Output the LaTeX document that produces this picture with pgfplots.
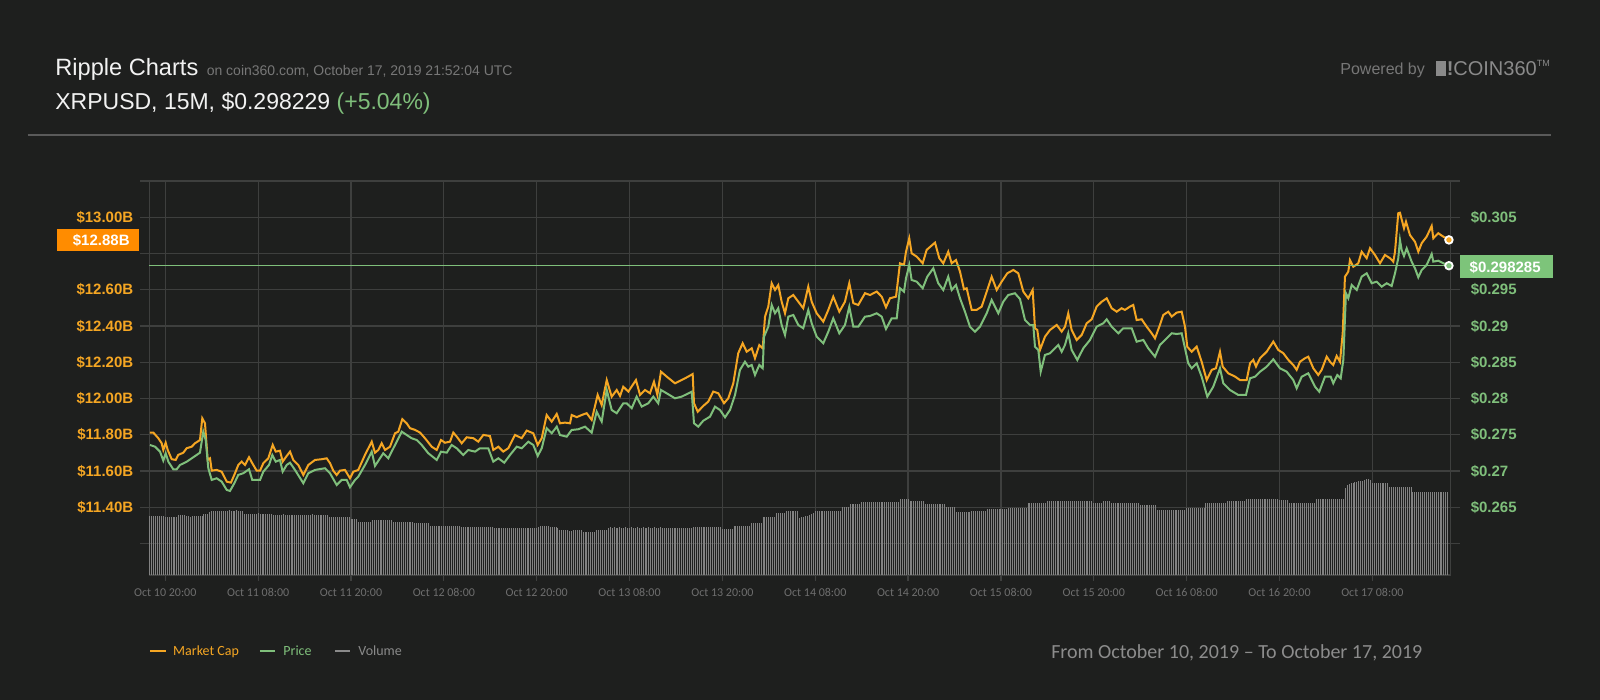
\documentclass[border=0pt]{standalone}
\usepackage{pgfplots}
\pgfplotsset{compat=1.18}
\usepackage{fontspec}
\setmainfont{Liberation Sans}
\newfontfamily\cf{Carlito}
\definecolor{bg}{HTML}{1E1F1E}
\definecolor{gridc}{HTML}{3E3F3E}
\definecolor{mcc}{HTML}{F5A623}
\definecolor{prc}{HTML}{7FBF7B}
\definecolor{volc}{HTML}{828282}
\definecolor{xlab}{HTML}{6E6E6E}
\definecolor{subc}{HTML}{777777}
\definecolor{boxor}{HTML}{FF8C00}
\definecolor{boxgr}{HTML}{7DC47A}
\definecolor{sepc}{HTML}{5A5A5A}
\definecolor{titc}{HTML}{F2F2F2}
\definecolor{logoc}{HTML}{8A8A8A}
\definecolor{fromc}{HTML}{8C8C8C}
\pgfplotsset{
  base/.style={at={(74.65pt,-287.5pt)}, anchor=south west, width=650.7pt, height=197pt,
    scale only axis, xmin=17.932, xmax=186.13, clip=false},
}
\begin{document}
\begin{tikzpicture}
\fill[bg] (0,0) rectangle (800pt,-350pt);
\path[use as bounding box] (0,0) rectangle (800pt,-350pt);
% ---------- grid axis ----------
\begin{axis}[base, ymin=11.0262, ymax=13.2,
  axis line style={gridc, line width=0.6pt},
  grid=major, major grid style={gridc, line width=0.6pt},
  xtick={20,32,...,176}, xtick pos=bottom, tick align=outside, major tick length=3pt,
  xtick style={gridc, line width=0.6pt},
  xticklabels={Oct 10 20:00, Oct 11 08:00, Oct 11 20:00, Oct 12 08:00, Oct 12 20:00, Oct 13 08:00, Oct 13 20:00, Oct 14 08:00, Oct 14 20:00, Oct 15 08:00, Oct 15 20:00, Oct 16 08:00, Oct 16 20:00, Oct 17 08:00},
  xticklabel style={font=\cf\fontsize{6pt}{7pt}\selectfont, text=xlab, anchor=north, text height=4pt, text depth=0pt},
  ytick={11.2,11.4,11.6,11.8,12.0,12.2,12.4,12.6,12.8,13.0,13.2}, yticklabels={}, ytick style={draw=none},
]
\end{axis}
% ---------- volume axis ----------
\begin{axis}[base, ymin=0, ymax=6.5667, hide axis]
\addplot[ycomb, volc, line width=0.5pt, no marks] table[row sep=\\, x expr=\coordindex*0.25+18.0, y=v] {
v\\
0.98\\0.99\\0.98\\0.99\\0.99\\0.98\\0.99\\0.99\\
0.96\\0.96\\0.96\\0.97\\0.96\\0.96\\0.96\\
1.00\\1.00\\1.00\\1.00\\
0.98\\0.98\\0.97\\0.98\\0.99\\0.98\\0.98\\0.98\\0.98\\
1.02\\1.02\\1.02\\
1.05\\1.06\\1.07\\1.07\\1.07\\1.07\\1.06\\1.07\\1.07\\1.07\\1.08\\1.07\\1.07\\1.07\\1.09\\1.07\\1.07\\1.07\\
1.02\\1.02\\1.02\\1.02\\1.02\\1.02\\1.02\\1.03\\1.02\\1.02\\1.02\\1.02\\1.02\\1.02\\1.02\\
1.00\\1.00\\1.00\\1.00\\1.00\\1.01\\1.00\\1.00\\1.00\\1.00\\1.00\\1.00\\1.00\\1.00\\1.00\\1.00\\1.00\\1.00\\1.00\\1.00\\1.01\\1.00\\1.00\\1.00\\1.00\\1.00\\1.00\\1.00\\1.00\\
0.97\\0.97\\0.97\\0.97\\0.97\\0.97\\0.97\\0.97\\0.97\\0.97\\0.97\\
0.93\\0.93\\0.93\\0.93\\
0.88\\0.88\\0.88\\0.88\\0.88\\0.88\\0.88\\
0.92\\0.92\\0.92\\0.92\\0.92\\0.92\\0.92\\0.92\\0.92\\0.92\\0.92\\
0.89\\0.89\\0.89\\0.89\\0.89\\0.89\\0.89\\0.89\\0.89\\0.89\\0.89\\
0.86\\0.86\\0.86\\0.86\\0.86\\0.86\\0.86\\0.86\\
0.82\\0.82\\0.82\\0.82\\0.82\\0.82\\0.82\\0.82\\0.82\\0.82\\0.82\\0.82\\0.82\\0.82\\0.82\\0.82\\
0.80\\0.80\\0.80\\0.80\\0.80\\0.80\\0.80\\0.80\\0.80\\0.80\\0.80\\0.80\\0.80\\0.80\\0.80\\0.80\\0.80\\
0.78\\0.78\\0.78\\0.78\\0.78\\0.78\\0.78\\0.78\\0.78\\0.78\\0.78\\0.78\\0.78\\0.78\\0.78\\0.78\\0.78\\0.78\\0.78\\0.78\\0.78\\0.78\\0.78\\
0.80\\0.81\\0.81\\0.82\\0.81\\0.81\\0.80\\0.80\\0.80\\0.80\\0.79\\
0.75\\0.75\\0.75\\0.75\\0.75\\0.74\\0.74\\0.75\\0.75\\0.75\\0.75\\0.75\\
0.72\\0.72\\0.72\\0.72\\0.72\\0.72\\0.72\\
0.75\\0.75\\0.75\\0.75\\0.75\\0.75\\
0.79\\0.80\\0.79\\0.80\\0.79\\0.79\\0.80\\0.79\\0.79\\0.80\\0.79\\0.79\\0.80\\0.79\\0.79\\0.80\\0.79\\0.79\\0.80\\0.79\\0.79\\0.80\\0.79\\0.79\\0.80\\0.79\\0.79\\0.80\\0.79\\0.79\\
0.78\\0.78\\0.78\\0.78\\0.78\\0.78\\0.78\\0.78\\0.78\\0.78\\0.78\\0.78\\0.78\\0.78\\
0.80\\0.80\\0.80\\0.80\\0.80\\0.80\\0.80\\0.80\\0.80\\0.80\\0.80\\0.80\\0.80\\0.80\\0.80\\
0.76\\0.76\\0.76\\0.76\\0.76\\0.76\\
0.82\\0.82\\0.82\\0.82\\0.82\\0.82\\0.82\\0.82\\0.82\\
0.87\\0.87\\0.87\\0.87\\0.87\\0.87\\
0.97\\0.97\\0.97\\0.97\\0.97\\0.97\\0.97\\
1.03\\1.03\\1.03\\1.03\\1.03\\
1.06\\1.06\\1.06\\1.06\\1.06\\1.06\\1.06\\
0.95\\0.97\\0.97\\0.98\\0.98\\1.00\\1.02\\1.03\\
1.07\\1.07\\1.07\\1.07\\1.07\\1.07\\1.07\\1.07\\1.07\\1.07\\1.07\\1.07\\1.07\\1.07\\
1.13\\1.13\\1.13\\1.13\\
1.18\\1.18\\1.18\\1.18\\1.18\\1.18\\
1.21\\1.21\\1.21\\1.21\\1.21\\1.21\\1.21\\1.21\\1.21\\1.21\\1.21\\1.21\\1.21\\1.21\\1.21\\1.21\\1.21\\1.21\\1.21\\1.21\\
1.26\\1.26\\1.26\\1.26\\1.26\\
1.24\\1.24\\1.24\\1.24\\1.24\\1.24\\1.24\\1.24\\
1.18\\1.18\\1.18\\1.18\\1.18\\1.18\\1.18\\1.18\\1.18\\1.18\\1.18\\
1.14\\1.14\\1.14\\1.14\\1.14\\
1.05\\1.05\\1.05\\1.05\\1.05\\1.05\\1.05\\1.05\\
1.07\\1.07\\1.07\\1.07\\1.07\\1.07\\1.07\\1.07\\
1.10\\1.10\\1.10\\1.10\\1.10\\1.10\\1.10\\1.10\\1.10\\1.10\\1.10\\
1.12\\1.12\\1.12\\1.12\\1.12\\1.12\\1.12\\1.12\\1.12\\1.12\\
1.20\\1.20\\1.20\\1.20\\1.20\\1.20\\1.20\\1.20\\1.20\\1.20\\
1.24\\1.24\\1.24\\1.24\\1.24\\1.24\\1.24\\1.24\\1.24\\1.24\\1.24\\1.24\\1.24\\1.24\\1.24\\1.24\\1.24\\1.24\\1.24\\1.24\\1.24\\1.24\\1.24\\1.24\\
1.20\\1.20\\1.20\\1.20\\1.20\\
1.23\\1.23\\1.23\\1.23\\
1.20\\1.20\\1.20\\1.20\\1.20\\1.20\\1.20\\1.20\\1.20\\1.20\\1.20\\1.20\\1.20\\1.20\\1.20\\
1.16\\1.16\\1.16\\1.16\\1.16\\1.16\\1.16\\1.16\\1.16\\
1.08\\1.08\\1.08\\1.08\\1.08\\1.08\\1.08\\1.08\\1.08\\1.08\\1.08\\1.08\\1.08\\1.08\\1.08\\
1.12\\1.12\\1.12\\1.12\\1.12\\1.12\\1.12\\1.12\\1.12\\1.12\\
1.20\\1.20\\1.20\\1.20\\1.20\\1.20\\1.20\\1.20\\1.20\\1.20\\1.20\\
1.23\\1.23\\1.23\\1.23\\1.23\\1.23\\1.23\\1.23\\1.23\\1.23\\
1.27\\1.27\\1.27\\1.27\\1.27\\1.27\\1.27\\1.27\\1.27\\1.27\\1.27\\1.27\\1.27\\1.27\\1.27\\1.27\\1.27\\
1.25\\1.25\\1.25\\1.25\\1.25\\
1.20\\1.20\\1.20\\1.20\\1.20\\1.20\\1.20\\1.20\\1.20\\1.20\\1.20\\1.20\\1.20\\1.20\\
1.27\\1.27\\1.27\\1.27\\1.27\\1.27\\1.27\\1.27\\1.27\\1.27\\1.27\\1.27\\1.27\\1.27\\1.27\\
1.45\\1.50\\1.52\\1.53\\1.54\\1.55\\1.55\\1.56\\1.57\\1.57\\
1.59\\1.60\\1.60\\1.59\\
1.53\\1.53\\1.53\\1.53\\1.53\\1.53\\1.53\\1.53\\1.53\\
1.47\\1.47\\1.47\\1.47\\1.47\\1.47\\1.47\\1.47\\1.47\\1.47\\1.47\\1.47\\
1.38\\1.38\\1.38\\1.38\\1.38\\1.38\\1.38\\1.38\\1.38\\1.38\\1.38\\1.38\\1.38\\1.38\\1.38\\1.38\\1.38\\1.38\\1.38\\
};
\end{axis}
% ---------- market cap axis ----------
\begin{axis}[base, ymin=11.0262, ymax=13.2,
  axis line style={draw=none}, xtick=\empty,
  ytick={11.2,11.4,11.6,11.8,12.0,12.2,12.4,12.6,12.8,13.0,13.2},
  yticklabels={{},{\$11.40B},{\$11.60B},{\$11.80B},{\$12.00B},{\$12.20B},{\$12.40B},{\$12.60B},{},{\$13.00B},{}},
  ytick pos=both, yticklabel pos=left, tick align=outside, major tick length=4.5pt,
  ytick style={gridc, line width=0.6pt},
  yticklabel style={font=\fontsize{7.5pt}{9pt}\selectfont\bfseries, text=mcc, anchor=east},
]
\addplot[mcc, line width=1pt, no marks] coordinates {
(18.02,11.812) (18.45,11.812) (19.10,11.781) (19.53,11.753) (19.74,11.716) (20.05,11.756) (20.31,11.716) (20.83,11.665) (21.34,11.661) (21.68,11.689) (22.33,11.701) (22.77,11.726) (23.41,11.734) (23.84,11.753) (24.48,11.771) (24.78,11.891) (25.13,11.863) (25.48,11.661) (25.78,11.670) (26.00,11.602) (26.64,11.606) (27.29,11.596) (27.94,11.541) (28.49,11.536) (29.01,11.588) (29.43,11.633) (29.87,11.652) (30.30,11.633) (30.82,11.676) (31.24,11.643) (31.81,11.602) (32.24,11.602) (32.67,11.643) (33.31,11.670) (33.88,11.744) (34.27,11.707) (34.82,11.712) (35.17,11.652) (35.69,11.683) (36.12,11.707) (36.54,11.661) (37.19,11.633) (37.84,11.578) (38.48,11.633) (39.35,11.661) (40.21,11.665) (40.86,11.670) (41.29,11.643) (41.71,11.602) (42.15,11.578) (42.58,11.602) (43.22,11.606) (43.87,11.560) (44.30,11.596) (44.94,11.606) (45.81,11.689) (46.68,11.762) (47.10,11.701) (47.53,11.716) (47.97,11.753) (48.40,11.716) (49.04,11.734) (49.69,11.808) (50.11,11.817) (50.63,11.886) (51.20,11.863) (51.63,11.836) (52.27,11.827) (52.92,11.812) (53.56,11.781) (54.43,11.734) (55.08,11.716) (55.63,11.771) (56.15,11.756) (56.80,11.762) (57.22,11.812) (57.66,11.790) (58.31,11.753) (58.95,11.786) (59.81,11.781) (60.45,11.762) (61.10,11.799) (61.96,11.793) (62.39,11.716) (63.04,11.734) (63.68,11.707) (64.33,11.726) (65.20,11.799) (66.06,11.781) (66.71,11.823) (67.56,11.808) (68.13,11.744) (68.65,11.781) (69.29,11.909) (69.94,11.872) (70.59,11.915) (71.01,11.863) (71.66,11.867) (72.31,11.863) (72.52,11.909) (73.17,11.897) (73.82,11.909) (74.46,11.919) (75.11,11.882) (75.88,12.020) (76.40,11.964) (77.05,12.102) (77.69,12.010) (78.34,12.047) (78.77,12.014) (79.19,12.065) (79.84,12.038) (80.83,12.102) (81.35,12.020) (82.00,12.047) (82.64,12.029) (83.16,12.093) (83.59,12.020) (84.06,12.148) (84.80,12.121) (85.87,12.084) (86.74,12.102) (87.59,12.121) (88.16,12.135) (88.33,11.974) (88.81,11.927) (89.53,11.959) (90.18,11.983) (90.82,12.038) (91.47,12.029) (92.21,11.974) (92.76,12.001) (93.41,12.084) (94.05,12.250) (94.62,12.305) (95.14,12.258) (95.79,12.277) (96.21,12.222) (96.77,12.295) (97.21,12.277) (97.51,12.452) (97.93,12.507) (98.37,12.636) (98.80,12.599) (99.22,12.626) (99.66,12.534) (100.09,12.470) (100.52,12.553) (101.16,12.571) (101.81,12.534) (102.45,12.498) (103.10,12.617) (103.54,12.534) (104.19,12.470) (105.04,12.424) (105.69,12.489) (106.33,12.562) (107.11,12.479) (107.84,12.534) (108.40,12.636) (108.92,12.526) (109.56,12.516) (110.43,12.581) (111.08,12.571) (111.94,12.590) (112.59,12.562) (113.14,12.503) (113.66,12.553) (114.44,12.562) (114.95,12.746) (115.47,12.737) (115.73,12.810) (116.15,12.884) (116.46,12.801) (117.11,12.783) (117.89,12.746) (118.40,12.820) (119.48,12.860) (120.03,12.774) (120.55,12.746) (121.19,12.810) (121.63,12.746) (122.19,12.764) (122.71,12.700) (123.22,12.603) (123.57,12.608) (124.22,12.489) (124.87,12.489) (125.51,12.507) (126.16,12.590) (126.80,12.672) (127.45,12.599) (128.10,12.645) (128.82,12.691) (129.60,12.709) (130.24,12.691) (130.89,12.590) (131.53,12.553) (132.10,12.599) (132.40,12.388) (132.70,12.378) (133.05,12.268) (133.69,12.341) (134.34,12.378) (135.21,12.406) (135.85,12.369) (136.28,12.396) (136.70,12.470) (137.14,12.378) (137.79,12.323) (138.44,12.351) (139.08,12.415) (139.73,12.437) (140.37,12.507) (141.02,12.534) (141.67,12.553) (142.31,12.498) (142.96,12.479) (143.60,12.498) (144.03,12.489) (144.68,12.507) (145.10,12.516) (145.54,12.433) (146.19,12.437) (146.84,12.396) (147.48,12.360) (147.91,12.332) (148.55,12.406) (148.98,12.461) (149.63,12.479) (150.07,12.452) (150.71,12.474) (151.36,12.479) (151.79,12.396) (152.08,12.286) (152.65,12.258) (153.30,12.286) (153.94,12.203) (154.59,12.102) (155.24,12.158) (155.79,12.167) (156.31,12.258) (156.66,12.176) (157.38,12.139) (158.25,12.121) (158.89,12.102) (159.76,12.102) (160.19,12.194) (160.61,12.213) (160.96,12.176) (161.48,12.222) (162.34,12.258) (163.20,12.314) (163.84,12.268) (164.49,12.250) (165.14,12.213) (165.78,12.185) (166.22,12.158) (166.65,12.203) (167.29,12.222) (167.72,12.231) (168.37,12.167) (169.01,12.130) (169.45,12.158) (170.10,12.231) (170.53,12.203) (170.95,12.185) (171.39,12.235) (171.82,12.203) (172.17,12.360) (172.46,12.672) (172.89,12.700) (173.11,12.764) (173.54,12.727) (174.18,12.746) (174.62,12.810) (175.27,12.774) (175.70,12.829) (176.34,12.792) (176.99,12.746) (177.63,12.792) (178.28,12.774) (178.71,12.755) (178.93,12.810) (179.35,13.022) (179.57,13.025) (180.09,12.939) (180.35,12.976) (180.86,12.902) (181.51,12.865) (181.94,12.810) (182.38,12.857) (183.02,12.893) (183.67,12.952) (183.88,12.884) (184.52,12.912) (185.17,12.893) (185.90,12.875)
};
\addplot[only marks, mark=*, mark size=1.9pt, mark options={fill=mcc, draw=white, line width=0.9pt}] coordinates {(185.90,12.875)};
\end{axis}
% ---------- price axis ----------
\begin{axis}[base, ymin=0.255655, ymax=0.310007,
  axis line style={draw=none}, xtick=\empty,
  ytick={0.265,0.27,0.275,0.28,0.285,0.29,0.295,0.305},
  yticklabels={{\$0.265},{\$0.27},{\$0.275},{\$0.28},{\$0.285},{\$0.29},{\$0.295},{\$0.305}},
  ytick pos=right, yticklabel pos=right, major tick length=0pt, ytick style={draw=none},
  yticklabel style={font=\fontsize{7.5pt}{9pt}\selectfont\bfseries, text=prc, anchor=west, xshift=6.5pt},
]
\addplot[prc, line width=0.5pt, no marks] coordinates {(17.932,0.298285) (186.13,0.298285)};
\addplot[prc, line width=1pt, no marks] coordinates {
(18.02,0.27359) (18.67,0.27336) (19.32,0.27267) (19.74,0.27143) (20.05,0.27245) (20.39,0.27129) (21.03,0.27024) (21.47,0.27024) (21.90,0.27083) (22.77,0.27129) (23.62,0.27190) (24.48,0.27253) (24.91,0.27543) (25.22,0.27428) (25.56,0.27038) (26.00,0.26877) (26.64,0.26900) (27.29,0.26853) (27.94,0.26739) (28.36,0.26725) (28.92,0.26831) (29.43,0.26946) (30.08,0.26969) (30.82,0.27024) (31.24,0.26877) (31.81,0.26877) (32.24,0.26877) (32.67,0.26991) (33.40,0.27083) (33.83,0.27221) (34.27,0.27129) (34.82,0.27152) (35.17,0.26991) (35.69,0.27083) (36.12,0.27115) (36.76,0.27015) (37.84,0.26831) (38.48,0.26969) (39.35,0.27015) (40.64,0.27038) (41.29,0.26969) (42.15,0.26808) (42.80,0.26877) (43.44,0.26877) (43.87,0.26776) (44.52,0.26877) (44.94,0.26922) (45.81,0.27083) (46.68,0.27267) (47.10,0.27070) (47.75,0.27176) (48.17,0.27245) (48.82,0.27176) (49.69,0.27359) (50.55,0.27543) (51.20,0.27497) (51.84,0.27452) (52.49,0.27428) (53.14,0.27359) (53.99,0.27245) (55.08,0.27152) (55.63,0.27267) (56.37,0.27253) (57.01,0.27359) (57.66,0.27314) (58.51,0.27221) (59.16,0.27290) (60.03,0.27267) (60.67,0.27314) (61.74,0.27314) (62.39,0.27129) (63.04,0.27176) (63.81,0.27115) (64.55,0.27221) (65.42,0.27336) (66.06,0.27314) (66.91,0.27405) (67.56,0.27359) (68.13,0.27208) (68.65,0.27314) (69.29,0.27590) (69.94,0.27521) (70.59,0.27612) (71.01,0.27497) (71.88,0.27474) (72.52,0.27566) (73.38,0.27576) (74.24,0.27612) (75.11,0.27529) (75.75,0.27819) (76.40,0.27681) (77.05,0.28118) (77.69,0.27842) (78.34,0.27797) (79.19,0.27934) (79.63,0.27934) (80.28,0.27866) (80.92,0.28026) (81.57,0.27888) (82.42,0.27934) (83.07,0.28026) (83.71,0.27934) (84.06,0.28118) (84.80,0.28072) (85.87,0.28003) (86.74,0.28026) (88.03,0.28094) (88.33,0.27659) (88.88,0.27612) (89.53,0.27694) (90.40,0.27750) (91.04,0.27888) (91.69,0.27842) (92.34,0.27741) (92.98,0.27842) (93.63,0.28049) (94.27,0.28394) (94.92,0.28508) (95.35,0.28439) (95.79,0.28463) (96.21,0.28325) (96.77,0.28463) (97.21,0.28417) (97.38,0.28853) (97.93,0.28991) (98.37,0.29290) (98.80,0.29176) (99.22,0.29245) (99.66,0.29014) (100.09,0.28877) (100.52,0.29129) (101.16,0.29152) (101.81,0.29014) (102.45,0.28969) (103.10,0.29221) (103.54,0.29038) (104.19,0.28853) (105.04,0.28762) (105.69,0.28922) (106.33,0.29107) (107.11,0.28900) (107.84,0.29014) (108.40,0.29267) (108.92,0.28991) (109.56,0.28991) (110.43,0.29129) (111.08,0.29139) (111.94,0.29176) (112.59,0.29129) (113.14,0.28959) (113.88,0.29107) (114.53,0.29107) (114.95,0.29521) (115.47,0.29474) (115.73,0.29659) (116.15,0.29842) (116.46,0.29635) (117.11,0.29612) (117.89,0.29521) (118.48,0.29681) (119.26,0.29797) (119.90,0.29590) (120.55,0.29497) (121.19,0.29681) (121.63,0.29497) (122.19,0.29566) (122.71,0.29383) (123.35,0.29198) (124.00,0.28991) (124.64,0.28922) (125.29,0.28991) (126.16,0.29176) (126.80,0.29359) (127.66,0.29176) (128.30,0.29336) (128.95,0.29428) (129.81,0.29452) (130.46,0.29373) (131.11,0.29083) (131.75,0.29014) (132.18,0.29014) (132.40,0.28715) (132.83,0.28670) (133.14,0.28370) (133.69,0.28601) (134.34,0.28624) (135.41,0.28739) (135.85,0.28646) (136.28,0.28739) (136.70,0.28900) (137.14,0.28670) (137.87,0.28532) (138.64,0.28693) (139.51,0.28808) (140.37,0.28991) (141.23,0.29038) (141.67,0.29093) (142.31,0.28991) (143.17,0.28900) (143.81,0.28969) (144.90,0.28969) (145.54,0.28784) (146.40,0.28808) (147.04,0.28693) (147.91,0.28577) (148.55,0.28739) (149.42,0.28831) (150.07,0.28900) (150.71,0.28890) (151.36,0.28900) (151.79,0.28693) (152.21,0.28486) (152.65,0.28417) (153.30,0.28486) (153.94,0.28301) (154.67,0.28026) (155.44,0.28163) (156.31,0.28417) (156.74,0.28210) (157.60,0.28118) (158.67,0.28049) (159.67,0.28049) (160.19,0.28279) (160.83,0.28301) (161.48,0.28370) (162.34,0.28439) (163.20,0.28541) (164.06,0.28417) (164.93,0.28370) (165.78,0.28256) (166.22,0.28141) (166.87,0.28301) (167.72,0.28348) (168.59,0.28163) (169.14,0.28094) (169.88,0.28301) (170.62,0.28301) (170.95,0.28210) (171.47,0.28325) (171.91,0.28279) (172.25,0.28532) (172.59,0.29452) (172.89,0.29383) (173.33,0.29566) (173.98,0.29497) (174.62,0.29681) (175.27,0.29728) (175.91,0.29590) (176.56,0.29612) (177.21,0.29543) (177.86,0.29590) (178.50,0.29552) (178.93,0.29728) (179.35,0.29934) (179.57,0.30187) (179.79,0.30049) (180.09,0.29966) (180.44,0.30072) (181.08,0.29888) (181.51,0.29797) (181.94,0.29672) (182.38,0.29773) (183.02,0.29842) (183.67,0.29994) (183.88,0.29888) (184.52,0.29901) (185.17,0.29866) (185.90,0.29832)
};
\addplot[only marks, mark=*, mark size=1.9pt, mark options={fill=prc, draw=white, line width=0.9pt}] coordinates {(185.90,0.29832)};
\end{axis}
% ---------- header, boxes, legend ----------
\begin{scope}[x=0.5pt, y=-0.5pt]
\node[anchor=base west, inner sep=0pt, text=titc, font=\fontsize{11.8pt}{13pt}\selectfont] at (55,76) {Ripple Charts};
\node[anchor=base west, inner sep=0pt, text=subc, font=\fontsize{7pt}{8.5pt}\selectfont] at (206.4,76) {on coin360.com, October 17, 2019 21:52:04 UTC};
\node[anchor=base west, inner sep=0pt, text=titc, font=\fontsize{11.5pt}{13pt}\selectfont] at (55,110) {XRPUSD, 15M, \$0.298229 \textcolor{prc}{(+5.04\%)}};
\node[anchor=base west, inner sep=0pt, text=subc, font=\fontsize{8pt}{9.5pt}\selectfont] at (1340,75) {Powered by};
\fill[logoc] (1436,61) rectangle (1446,76);
\node[anchor=base west, inner sep=0pt, text=logoc, font=\fontsize{10pt}{12pt}\selectfont\bfseries] at (1446.5,76) {!};
\node[anchor=base west, inner sep=0pt, text=logoc, font=\fontsize{10pt}{12pt}\selectfont] at (1453,76) {COIN360\raisebox{0.9ex}{\fontsize{4.5pt}{5pt}\selectfont TM}};
\draw[sepc, line width=1pt] (27.5,135) -- (1551,135);
% value boxes
\fill[boxor] (57.3,229.3) rectangle (139.3,251.3);
\node[anchor=base east, inner sep=0pt, text=white, font=\fontsize{7.5pt}{9pt}\selectfont\bfseries] at (130,246) {\$12.88B};
\fill[boxgr] (1460,255) rectangle (1552.7,277.7);
\node[anchor=base west, inner sep=0pt, text=white, font=\fontsize{7.5pt}{9pt}\selectfont\bfseries] at (1469.3,272) {\$0.298285};
% legend
\draw[mcc, line width=1pt] (150,650.7) -- (165.6,650.7);
\node[anchor=base west, inner sep=0pt, text=mcc, font=\cf\fontsize{7pt}{8pt}\selectfont] at (172.8,655.2) {Market Cap};
\draw[prc, line width=1pt] (259.8,650.7) -- (275,650.7);
\node[anchor=base west, inner sep=0pt, text=prc, font=\cf\fontsize{7pt}{8pt}\selectfont] at (283,655.2) {Price};
\draw[logoc, line width=1pt] (335.3,650.7) -- (350,650.7);
\node[anchor=base west, inner sep=0pt, text=logoc, font=\cf\fontsize{7pt}{8pt}\selectfont] at (358,655.2) {Volume};
\node[anchor=base west, inner sep=0pt, text=fromc, font=\cf\fontsize{10pt}{12pt}\selectfont] at (1050.9,658) {From October 10, 2019 – To October 17, 2019};
\end{scope}
\end{tikzpicture}
\end{document}
